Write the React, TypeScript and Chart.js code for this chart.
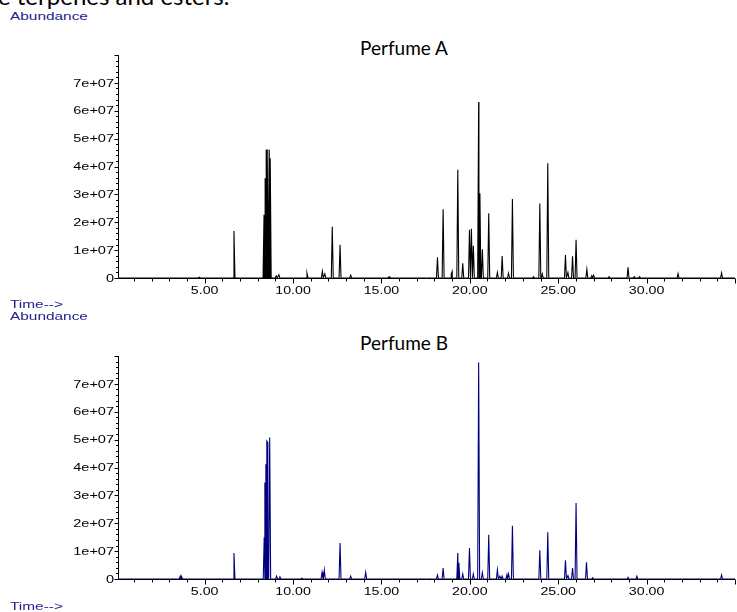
import React, { useEffect, useRef } from "react";
import { Chart, registerables } from "chart.js";

Chart.register(...registerables);

// Perfume A peaks: retention time (min) and apex abundance
const peakTimesA = [
  4.7, 6.66, 8.36, 8.42, 8.48, 8.54, 8.65, 8.71, 9.05, 9.2, 10.79, 11.66, 11.8,
  12.22, 12.66, 13.26, 15.43, 18.17, 18.49, 18.95, 19.0, 19.32, 19.6, 19.98,
  20.09, 20.2, 20.5, 20.57, 20.71, 21.07, 21.56, 21.83, 22.19, 22.41, 23.6,
  23.96, 24.1, 24.41, 25.41, 25.55, 25.81, 26.01, 26.62, 26.9, 27.0, 27.88,
  28.95, 29.3, 29.6, 31.78, 34.24,
];
const peakHeightsA = [
  0.03e7, 1.69e7, 2.27e7, 3.58e7, 4.6e7, 4.62e7, 4.6e7, 4.3e7, 0.08e7, 0.12e7,
  0.17e7, 0.24e7, 0.15e7, 1.84e7, 1.19e7, 0.1e7, 0.05e7, 0.74e7, 2.47e7,
  0.15e7, 0.23e7, 3.88e7, 0.53e7, 1.73e7, 1.77e7, 1.16e7, 6.31e7, 3.04e7,
  1.03e7, 2.32e7, 0.2e7, 0.79e7, 0.17e7, 2.83e7, 0.05e7, 2.67e7, 0.15e7,
  4.12e7, 0.82e7, 0.2e7, 0.78e7, 1.37e7, 0.31e7, 0.08e7, 0.1e7, 0.05e7,
  0.38e7, 0.05e7, 0.05e7, 0.16e7, 0.18e7,
];

// Perfume B peaks
const peakTimesB = [
  3.62, 3.7, 6.66, 8.37, 8.41, 8.46, 8.52, 8.57, 8.68, 9.07, 9.26, 10.5, 11.64,
  11.77, 12.66, 13.26, 14.11, 18.17, 18.49, 19.32, 19.38, 19.6, 19.98, 20.2,
  20.5, 20.71, 21.07, 21.56, 21.7, 21.83, 22.1, 22.19, 22.41, 23.96, 24.41,
  25.41, 25.55, 25.81, 26.01, 26.6, 26.95, 28.95, 29.45, 34.24,
];
const peakHeightsB = [
  0.1e7, 0.08e7, 0.93e7, 1.5e7, 3.46e7, 4.12e7, 4.95e7, 4.9e7, 5.08e7, 0.1e7,
  0.08e7, 0.03e7, 0.24e7, 0.32e7, 1.29e7, 0.1e7, 0.24e7, 0.14e7, 0.39e7,
  0.93e7, 0.58e7, 0.18e7, 1.11e7, 0.18e7, 7.77e7, 0.23e7, 1.59e7, 0.33e7,
  0.1e7, 0.1e7, 0.15e7, 0.18e7, 1.91e7, 1.03e7, 1.68e7, 0.67e7, 0.12e7,
  0.39e7, 2.73e7, 0.6e7, 0.05e7, 0.06e7, 0.1e7, 0.14e7,
];

const yTickValues = [0, 1e7, 2e7, 3e7, 4e7, 5e7, 6e7, 7e7];
const yTickLabels = ["0", "1e+07", "2e+07", "3e+07", "4e+07", "5e+07", "6e+07", "7e+07"];
const xTickValues = [5, 10, 15, 20, 25, 30];
const xTickLabels = ["5.00", "10.00", "15.00", "20.00", "25.00", "30.00"];

const X_MIN = 0.1;
const X_MAX = 35;
const Y_MAX = 8e7;
const HALF_WIDTH = 0.055;

function buildTrace(times: number[], heights: number[]) {
  const pts: { x: number; y: number }[] = [{ x: X_MIN, y: 0 }];
  times.forEach((t, i) => {
    pts.push({ x: t - HALF_WIDTH, y: 0 });
    pts.push({ x: t, y: heights[i] });
    pts.push({ x: t + HALF_WIDTH, y: 0 });
  });
  pts.push({ x: X_MAX, y: 0 });
  return pts.sort((a, b) => a.x - b.x);
}

const axesPlugin = {
  id: "gcAxes",
  beforeDatasetsDraw(chart: any) {
    const { ctx, chartArea: a, scales } = chart;
    const x = scales.x;
    const y = scales.y;
    ctx.save();
    ctx.strokeStyle = "#000";
    ctx.lineWidth = 1;
    ctx.beginPath();
    const lx = Math.round(a.left) + 0.5;
    const by = Math.round(a.bottom) + 0.5;
    ctx.moveTo(lx, a.top);
    ctx.lineTo(lx, by);
    ctx.moveTo(lx, by);
    ctx.lineTo(a.right, by);
    // y ticks
    for (let v = 0; v <= Y_MAX + 1; v += 2e6) {
      const py = Math.round(y.getPixelForValue(v)) + 0.5;
      const major = Math.abs(v % 1e7) < 1;
      ctx.moveTo(lx - (major ? 4 : 2.5), py);
      ctx.lineTo(lx, py);
    }
    // x ticks
    for (let t = 1; t <= 35; t += 1) {
      const px = Math.round(x.getPixelForValue(t)) + 0.5;
      const major = t % 5 === 0;
      ctx.moveTo(px, by);
      ctx.lineTo(px, by + (major ? 5 : 3));
    }
    ctx.stroke();
    ctx.restore();
  },
  afterDraw(chart: any) {
    const { ctx, chartArea: a, scales } = chart;
    const x = scales.x;
    const y = scales.y;
    ctx.save();
    ctx.fillStyle = "#000";
    ctx.font = '10px "Liberation Sans", Arial, sans-serif';
    ctx.textBaseline = "alphabetic";
    yTickValues.forEach((v, i) => {
      const py = y.getPixelForValue(v);
      ctx.save();
      ctx.translate(a.left - 4, py + 3.7);
      ctx.scale(1.45, 1);
      ctx.textAlign = "right";
      ctx.fillText(yTickLabels[i], 0, 0);
      ctx.restore();
    });
    xTickValues.forEach((v, i) => {
      const px = x.getPixelForValue(v);
      ctx.save();
      ctx.translate(px, a.bottom + 16);
      ctx.scale(1.42, 1);
      ctx.textAlign = "center";
      ctx.fillText(xTickLabels[i], 0, 0);
      ctx.restore();
    });
    ctx.restore();
  },
};

function Chromatogram(props: {
  times: number[];
  heights: number[];
  color: string;
  top: number;
  height: number;
  padTop: number;
  padBottom: number;
}) {
  const ref = useRef<HTMLCanvasElement>(null);
  useEffect(() => {
    if (!ref.current) return;
    const chart = new Chart(ref.current, {
      type: "line",
      data: {
        datasets: [
          {
            data: buildTrace(props.times, props.heights),
            borderColor: props.color,
            borderWidth: 1.1,
            pointRadius: 0,
            tension: 0,
            fill: false,
          },
        ],
      },
      options: {
        animation: false,
        responsive: false,
        devicePixelRatio: 1,
        parsing: false as any,
        layout: {
          padding: { left: 118, right: 2, top: props.padTop, bottom: props.padBottom },
        },
        plugins: { legend: { display: false }, tooltip: { enabled: false }, title: { display: false } },
        scales: {
          x: { type: "linear", min: X_MIN, max: X_MAX, display: false },
          y: { type: "linear", min: 0, max: Y_MAX, display: false },
        },
        events: [],
      },
      plugins: [axesPlugin],
    });
    return () => chart.destroy();
  }, []);
  return (
    <canvas
      ref={ref}
      width={737}
      height={props.height}
      style={{ position: "absolute", left: 0, top: props.top, width: 737, height: props.height, display: "block" }}
    />
  );
}

const smallLabel: React.CSSProperties = {
  position: "absolute",
  left: 10,
  fontFamily: '"Liberation Sans", Arial, sans-serif',
  fontSize: 11,
  lineHeight: "11px",
  color: "#22228f",
  transform: "scaleX(1.4)",
  transformOrigin: "left top",
  whiteSpace: "nowrap",
};

const titleStyle: React.CSSProperties = {
  position: "absolute",
  width: 300,
  left: 254,
  textAlign: "center",
  fontFamily: "Lato, 'Open Sans', sans-serif",
  fontSize: 19,
  lineHeight: "19px",
  color: "#000",
  whiteSpace: "nowrap",
};

export default function App() {
  return (
    <div
      style={{
        position: "absolute",
        left: 0,
        top: 0,
        width: 737,
        height: 612,
        overflow: "hidden",
        background: "#fff",
      }}
    >
      <div
        style={{
          position: "absolute",
          left: -2,
          top: -16,
          fontFamily: "Lato, 'Open Sans', sans-serif",
          fontSize: 24,
          lineHeight: "24px",
          whiteSpace: "nowrap",
          color: "#000",
        }}
      >
        e terpenes and esters.
      </div>
      <div style={{ ...smallLabel, top: 11 }}>Abundance</div>
      <div style={{ ...titleStyle, top: 38 }}>Perfume A</div>
      <Chromatogram
        times={peakTimesA}
        heights={peakHeightsA}
        color="#000000"
        top={0}
        height={300}
        padTop={55}
        padBottom={22}
      />
      <div style={{ ...smallLabel, top: 299 }}>Time--&gt;</div>
      <div style={{ ...smallLabel, top: 311 }}>Abundance</div>
      <div style={{ ...titleStyle, top: 333 }}>Perfume B</div>
      <Chromatogram
        times={peakTimesB}
        heights={peakHeightsB}
        color="#000080"
        top={300}
        height={312}
        padTop={56}
        padBottom={33}
      />
      <div style={{ ...smallLabel, top: 601 }}>Time--&gt;</div>
    </div>
  );
}
